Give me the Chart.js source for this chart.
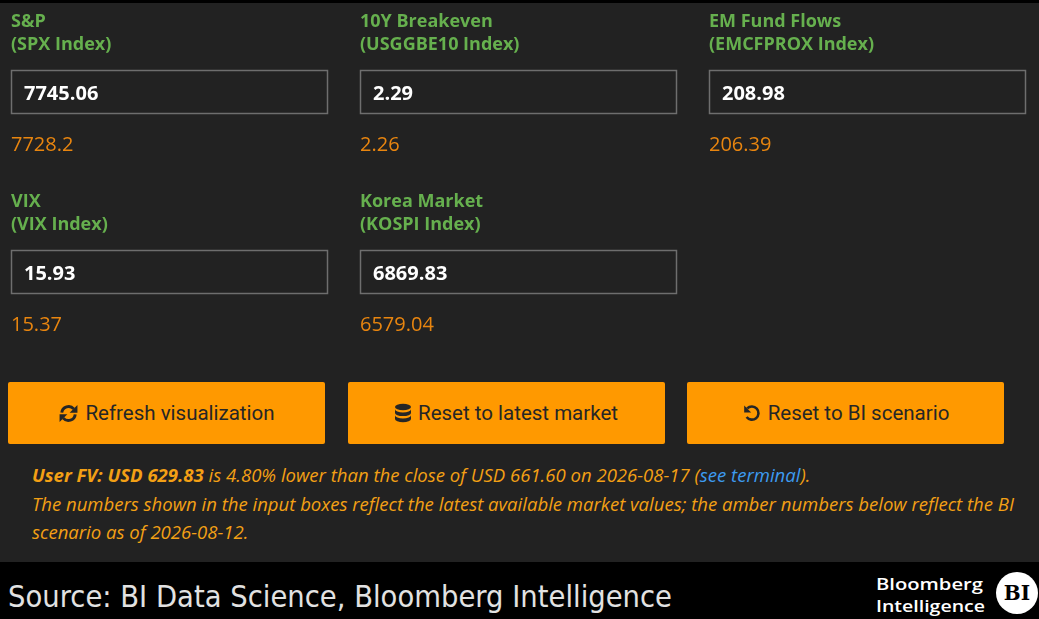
<!DOCTYPE html>
<html>
<head>
<meta charset="utf-8">
<script src="https://cdn.jsdelivr.net/npm/chart.js@4.4.1/dist/chart.umd.min.js"></script>
<style>
  html, body { margin: 0; padding: 0; background: #000; }
  #page { position: relative; width: 1039px; height: 619px; background: #222222; overflow: hidden; }
  #strip { position: absolute; left: 0; top: 0; width: 1039px; height: 3px; background: #000; }
  #fields { position: absolute; left: 0; top: 0; }
  .btn { position: absolute; top: 382px; width: 317px; height: 62px; background: #ff9900; border-radius: 2px;
         font-family: Roboto, sans-serif; font-size: 20.5px; color: #262626;
         display: flex; align-items: center; justify-content: center; }
  .btn svg { margin-right: 6px; }
  #msg { position: absolute; left: 32px; top: 461px; font-family: "Open Sans", sans-serif; font-style: italic;
         font-size: 17.5px; line-height: 28.5px; color: #f3a015; white-space: nowrap; transform-origin: 0 0; }
  #msg b { font-weight: 700; }
  #msg .link { color: #3d9bf0; }
  #footer { position: absolute; left: 0; top: 562px; width: 1039px; height: 57px; background: #000; }
  #source { position: absolute; left: 8px; top: 18px; font-family: "DejaVu Sans", sans-serif; font-size: 30px;
            color: #e2e2e2; white-space: nowrap; transform-origin: 0 0; line-height: 34px; }
  .logo { position: absolute; left: 876px; font-family: "Open Sans", sans-serif; font-weight: 600; font-size: 17px;
          color: #fff; white-space: nowrap; transform-origin: 0 0; line-height: 20px; }
  #bi { position: absolute; left: 996px; top: 10px; width: 42px; height: 42px; border-radius: 50%; background: #fff;
        color: #000; font-family: "DejaVu Serif", serif; font-size: 20px; font-weight: 700;
        display: flex; align-items: center; justify-content: center; }
</style>
</head>
<body>
<div id="page">
  <canvas id="fields" width="1039" height="370"></canvas>
  <div id="strip"></div>
  <div id="buttons"></div>
  <div id="msg"></div>
  <div id="footer">
    <div id="source"></div>
    <div class="logo" id="logo1" style="top:12px">Bloomberg</div>
    <div class="logo" id="logo2" style="top:34px">Intelligence</div>
    <div id="bi">BI</div>
  </div>
</div>
<script>
// input fields
const names = ['S&P', '10Y Breakeven', 'EM Fund Flows', 'VIX', 'Korea Market'];
const tickers = ['SPX Index', 'USGGBE10 Index', 'EMCFPROX Index', 'VIX Index', 'KOSPI Index'];
const latest = [7745.06, 2.29, 208.98, 15.93, 6869.83];
const scenario = [7728.2, 2.26, 206.39, 15.37, 6579.04];
const cols = [0, 1, 2, 0, 1];
const rows = [0, 0, 0, 1, 1];

const buttonLabels = ['Refresh visualization', 'Reset to latest market', 'Reset to BI scenario'];

const userFV = 'USD 629.83';
const pctDiff = '4.80%';
const closeValue = 'USD 661.60';
const closeDate = '2026-08-17';
const scenarioDate = '2026-08-12';
const sourceText = 'Source: BI Data Science, Bloomberg Intelligence';

const points = cols.map((c, i) => ({ x: c, y: rows[i] }));

const fieldPlugin = {
  id: 'fields',
  afterDatasetsDraw(chart) {
    const ctx = chart.ctx;
    const meta = chart.getDatasetMeta(0);
    ctx.save();
    ctx.textBaseline = 'alphabetic';
    meta.data.forEach((pt, i) => {
      const x = Math.round(pt.x), y = Math.round(pt.y);
      ctx.fillStyle = '#66b04e';
      ctx.font = 'bold 18px "Open Sans"';
      ctx.fillText(names[i], x, y + 19);
      ctx.fillText('(' + tickers[i] + ')', x, y + 42);
      ctx.strokeStyle = '#6e6e6e';
      ctx.lineWidth = 1.5;
      ctx.strokeRect(x + 0.5, y + 62.5, 316, 43);
      ctx.fillStyle = '#ffffff';
      ctx.font = 'bold 20px "Open Sans"';
      ctx.fillText(String(latest[i]), x + 13, y + 92);
      ctx.fillStyle = '#e8850f';
      ctx.font = '20px "Open Sans"';
      ctx.fillText(String(scenario[i]), x, y + 143);
    });
    ctx.restore();
  }
};

new Chart(document.getElementById('fields'), {
  type: 'scatter',
  data: { datasets: [{ data: points, pointRadius: 0 }] },
  options: {
    responsive: false,
    animation: false,
    events: [],
    devicePixelRatio: 1,
    layout: { padding: 0 },
    plugins: { legend: { display: false }, tooltip: { enabled: false } },
    scales: {
      x: { type: 'linear', display: false, min: -11 / 349, max: -11 / 349 + 1039 / 349 },
      y: { type: 'linear', display: false, reverse: true, min: -8 / 180, max: -8 / 180 + 370 / 180 }
    }
  },
  plugins: [fieldPlugin]
});

// buttons
const icons = [
  '<svg width="21" height="21" viewBox="0 0 20 20"><path d="M3.6 9.2 A6.5 6.5 0 0 1 15 5.6" stroke="#262626" stroke-width="2.8" fill="none"/><polygon points="18.5,1.8 18.5,9.2 11.1,9.2" fill="#262626"/><path d="M16.4 10.8 A6.5 6.5 0 0 1 5 14.4" stroke="#262626" stroke-width="2.8" fill="none"/><polygon points="1.5,18.2 1.5,10.8 8.9,10.8" fill="#262626"/></svg>',
  '<svg width="18" height="21" viewBox="0 0 18 21"><ellipse cx="9" cy="4" rx="8" ry="3.2" fill="#262626"/><path d="M1 6.3 v3.6 a8 3.2 0 0 0 16 0 v-3.6 a8 3.2 0 0 1 -16 0z" fill="#262626"/><path d="M1 12.3 v3.8 a8 3.2 0 0 0 16 0 v-3.8 a8 3.2 0 0 1 -16 0z" fill="#262626"/></svg>',
  '<svg width="20" height="20" viewBox="0 0 20 20"><path d="M5.2 5.4 A6.6 6.6 0 1 1 4.6 14" stroke="#262626" stroke-width="2.6" fill="none"/><polygon points="2.2,2.4 2.2,9.4 9.2,9.4" fill="#262626"/></svg>'
];
const btnBox = document.getElementById('buttons');
buttonLabels.forEach((t, i) => {
  const b = document.createElement('div');
  b.className = 'btn';
  b.style.left = (8 + i * 339.5) + 'px';
  b.innerHTML = icons[i] + '<span>' + t + '</span>';
  btnBox.appendChild(b);
});

// message
const msg = document.getElementById('msg');
msg.innerHTML =
  '<span><b>User FV: ' + userFV + '</b> is ' + pctDiff + ' lower than the close of ' + closeValue +
  ' on ' + closeDate + ' (<span class="link">see terminal</span>).</span><br>' +
  '<span id="line2">The numbers shown in the input boxes reflect the latest available market values; the amber numbers below reflect the BI</span><br>' +
  '<span>scenario as of ' + scenarioDate + '.</span>';

// footer
const src = document.getElementById('source');
src.textContent = sourceText;
function fitWidth(el, target, measure) {
  const w = (measure || el).getBoundingClientRect().width;
  el.style.transform = 'scaleX(' + (target / w) + ')';
}
fitWidth(msg, 982, document.getElementById('line2'));
fitWidth(src, 664);
fitWidth(document.getElementById('logo1'), 107);
fitWidth(document.getElementById('logo2'), 109);
</script>
</body>
</html>
